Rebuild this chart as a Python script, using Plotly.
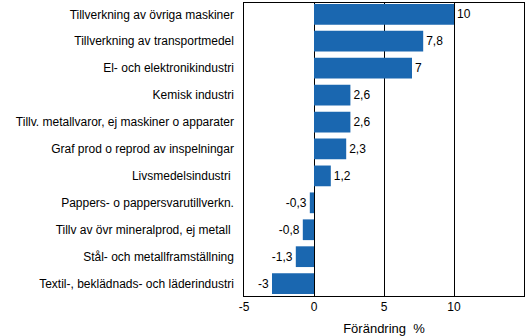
import plotly.graph_objects as go

categories = [
    "Tillverkning av övriga maskiner",
    "Tillverkning av transportmedel",
    "El- och elektronikindustri",
    "Kemisk industri",
    "Tillv. metallvaror, ej maskiner o apparater",
    "Graf prod o reprod av inspelningar",
    "Livsmedelsindustri ",
    "Pappers- o pappersvarutillverkn.",
    "Tillv av övr mineralprod, ej metall ",
    "Stål- och metallframställning",
    "Textil-, beklädnads- och läderindustri",
]
values = [10, 7.8, 7, 2.6, 2.6, 2.3, 1.2, -0.3, -0.8, -1.3, -3]
tick_vals = [-5, 0, 5, 10, 15]

# value labels use a decimal comma
labels = [f"{v:g}".replace(".", ",") for v in values]

FONT = "Liberation Sans, Arial, sans-serif"

fig = go.Figure(
    go.Bar(
        y=categories,
        x=values,
        orientation="h",
        marker=dict(color="#1a67b0", line=dict(width=0)),
        width=0.77,
        text=labels,
        textposition="outside",
        cliponaxis=False,
        textfont=dict(family=FONT, size=12, color="black"),
    )
)

fig.update_layout(
    width=529,
    height=336,
    margin=dict(l=244, r=5, t=2, b=36),
    paper_bgcolor="white",
    plot_bgcolor="white",
    showlegend=False,
    font=dict(family=FONT, size=12, color="black"),
    xaxis=dict(
        range=[-5, 15],
        tickvals=tick_vals,
        ticktext=[str(t) for t in tick_vals],
        showgrid=True,
        gridcolor="#000000",
        gridwidth=1,
        zeroline=True,
        zerolinecolor="#000000",
        zerolinewidth=1,
        showline=True,
        linecolor="#000000",
        linewidth=1,
        mirror=True,
        ticks="",
        tickfont=dict(size=12),
        title=dict(text="Förändring  %", standoff=10, font=dict(size=13)),
    ),
    yaxis=dict(
        range=[10.46, -0.42],
        showline=True,
        linecolor="#000000",
        linewidth=1,
        mirror=True,
        showgrid=False,
        ticks="",
        ticksuffix="  ",
    ),
)

fig.write_html("out.html")
